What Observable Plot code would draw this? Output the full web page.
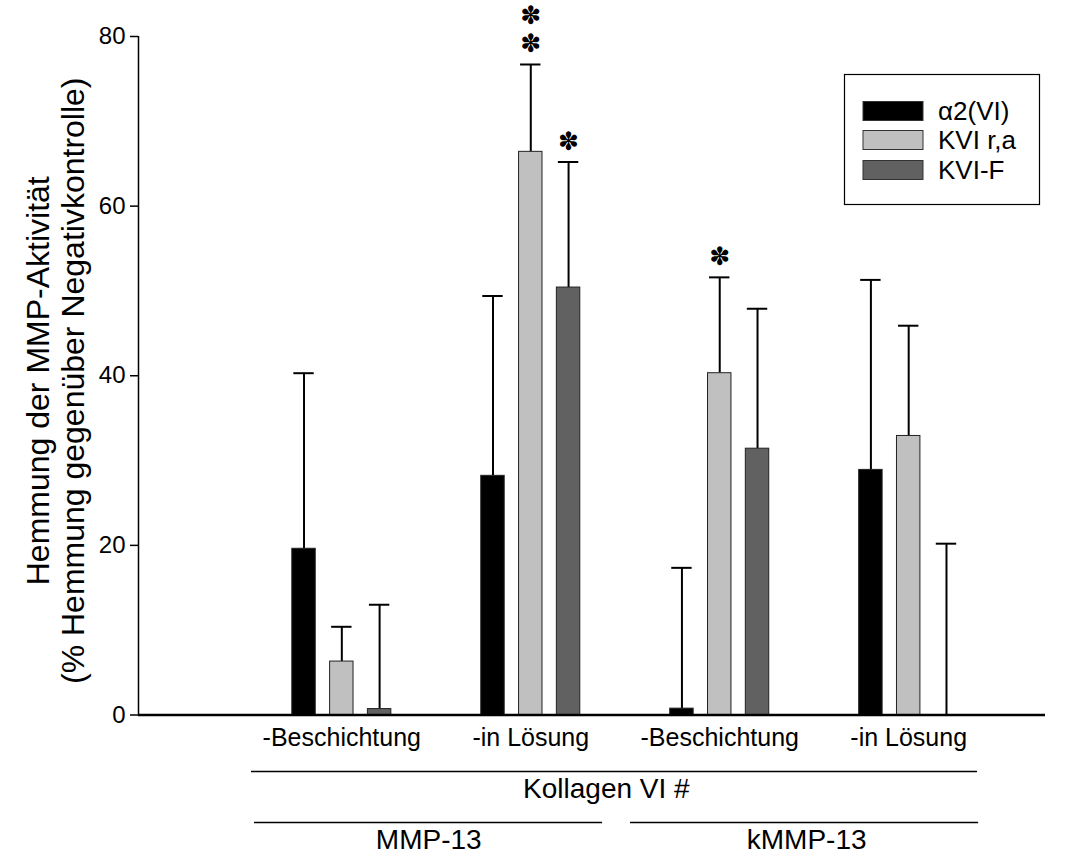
<!DOCTYPE html>
<html><head><meta charset="utf-8">
<script src="https://cdn.jsdelivr.net/npm/d3@7"></script>
<script src="https://cdn.jsdelivr.net/npm/@observablehq/plot@0.6"></script>
<style>
body{margin:0;background:#fff;}
#chart{width:1086px;height:863px;}
</style>
</head><body><div id="chart"></div>
<script>
// ---- data ----
const groups = ["-Beschichtung", "-in Lösung", "-Beschichtung", "-in Lösung"];
const series = ["α2(VI)", "KVI r,a", "KVI-F"];
const colors = ["#000000", "#c0c0c0", "#616161"];
const alpha2 = [19.6, 28.2, 0.75, 28.9];
const kviRA = [6.3, 66.4, 40.3, 32.9];
const kviF = [0.7, 50.4, 31.4, 0];
const errAlpha2 = [20.7, 21.2, 16.6, 22.4];
const errKviRA = [4.1, 10.3, 11.3, 13.0];
const errKviF = [12.3, 14.8, 16.5, 20.2];
const starsAlpha2 = [0, 0, 0, 0];
const starsKviRA = [0, 2, 1, 0];
const starsKviF = [0, 1, 0, 0];
const yTicks = [0, 20, 40, 60, 80];
const collagenLabel = "Kollagen VI #";
const enzymes = ["MMP-13", "kMMP-13"];
const yTitle = ["Hemmung der MMP-Aktivität", "(% Hemmung gegenüber Negativkontrolle)"];

// ---- build table ----
const vals = [alpha2, kviRA, kviF], errs = [errAlpha2, errKviRA, errKviF], stars = [starsAlpha2, starsKviRA, starsKviF];
const rows = [];
groups.forEach((gl, g) => series.forEach((sl, s) => rows.push({
  g, label: gl, series: sl, pos: g * 5 + s,
  value: vals[s][g], err: errs[s][g], top: vals[s][g] + errs[s][g], stars: stars[s][g]
})));
const starRows = rows.filter(d => d.stars > 0);
const groupRows = groups.map((label, g) => ({label, pos: g * 5 + 1}));
const enzymeRows = enzymes.map((label, i) => ({label, pos: i * 10 + 3.3}));

const half = 0.31, cap = 0.27;
const xDomain = [-4.38, 19.62];
const font = "'Liberation Sans', Arial, sans-serif";

const plot = Plot.plot({
  width: 1086, height: 863,
  marginLeft: 138, marginRight: 41, marginTop: 36, marginBottom: 148.5,
  x: {type: "linear", domain: xDomain, axis: null},
  y: {type: "linear", domain: [0, 80], axis: null},
  color: {domain: series, range: colors},
  style: {fontFamily: font, color: "#000", background: "#fff", overflow: "visible"},
  marks: [
    // error bars (upper only)
    Plot.ruleX(rows, {x: "pos", y1: "value", y2: "top", stroke: "#000", strokeWidth: 2}),
    Plot.ruleY(rows, {y: "top", x1: d => d.pos - cap, x2: d => d.pos + cap, stroke: "#000", strokeWidth: 2}),
    // bars
    Plot.rectY(rows, {x1: d => d.pos - half, x2: d => d.pos + half, y1: 0, y2: "value", fill: "series", stroke: "#222", strokeWidth: 1}),
    // significance stars
    Plot.text(starRows, {x: "pos", y: "top", text: d => Array(d.stars).fill("✽").join("\n"),
      lineAnchor: "bottom", lineHeight: 1.14, dy: -12, fontSize: 25, fontFamily: "DejaVu Sans"}),
    // axes
    Plot.ruleX([xDomain[0]], {y1: 0, y2: 80, stroke: "#000", strokeWidth: 1.5}),
    Plot.ruleY([0], {stroke: "#000", strokeWidth: 2.5}),
    Plot.ruleY(yTicks, {y: d => d, x1: xDomain[0], x2: xDomain[0], dx: -4, stroke: "#000", strokeWidth: 1.5, strokeLinecap: "butt", insetLeft: -4, insetRight: -4}),
    Plot.text(yTicks, {y: d => d, text: d => String(d), frameAnchor: "left", textAnchor: "end", dx: -13, fontSize: 24}),
    // y title
    Plot.text([yTitle[0]], {text: d => d, frameAnchor: "left", textAnchor: "middle", rotate: -90, dx: -100, dy: 5, fontSize: 32}),
    Plot.text([yTitle[1]], {text: d => d, frameAnchor: "left", textAnchor: "middle", rotate: -90, dx: -65, dy: 5, fontSize: 32}),
    // category labels
    Plot.text(groupRows, {x: "pos", text: "label", frameAnchor: "bottom", dy: 31, fontSize: 25}),
    // brackets
    Plot.ruleY([0], {x1: -1.39, x2: 17.82, dy: 56.5, stroke: "#000", strokeWidth: 1.5}),
    Plot.text([collagenLabel], {x: 8, text: d => d, frameAnchor: "bottom", dy: 83, fontSize: 28}),
    Plot.ruleY([0], {x1: -1.31, x2: 7.9, dy: 107.5, stroke: "#000", strokeWidth: 1.5}),
    Plot.ruleY([0], {x1: 8.64, x2: 17.85, dy: 107.5, stroke: "#000", strokeWidth: 1.5}),
    Plot.text(enzymeRows, {x: "pos", text: "label", frameAnchor: "bottom", dy: 134, fontSize: 28})
  ]
});

const svg = d3.select(plot);

// legend box
const lg = svg.append("g").attr("font-family", font).attr("text-anchor", "start");
lg.append("rect").attr("x", 844.5).attr("y", 74.5).attr("width", 195).attr("height", 130)
  .attr("fill", "#fff").attr("stroke", "#000").attr("stroke-width", 1.2);
const rowY = [111, 140, 170];
series.forEach((s, i) => {
  lg.append("rect").attr("x", 863).attr("y", rowY[i] - 9.5).attr("width", 60).attr("height", 19)
    .attr("fill", colors[i]).attr("stroke", "#333").attr("stroke-width", 1);
  lg.append("text").attr("x", 938).attr("y", rowY[i]).attr("dy", "0.35em").attr("text-anchor", "start")
    .attr("font-size", 26).attr("fill", "#000").text(s);
});

document.getElementById("chart").appendChild(plot);
</script>
</body></html>
